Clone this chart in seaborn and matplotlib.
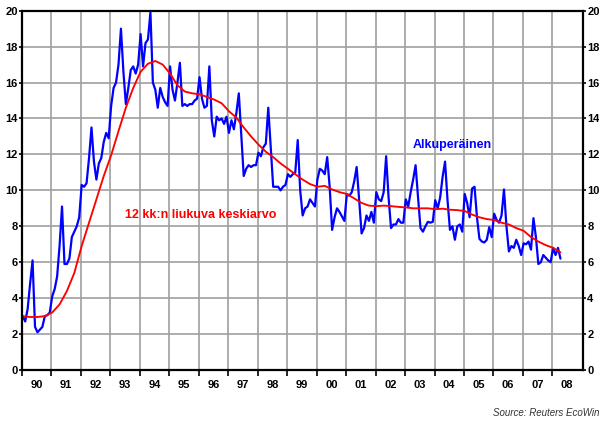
import matplotlib
matplotlib.use("Agg")
import matplotlib.pyplot as plt
import numpy as np
import pandas as pd
import seaborn as sns
from matplotlib.ticker import FixedLocator, FixedFormatter, NullFormatter

# ---- data (monthly, Jan 1990 .. Apr 2008) ----
b1990 = [3.0, 2.7, 3.4, 4.8, 6.1, 2.4, 2.1, 2.25, 2.4, 3.0, 3.05, 3.2]
b1991 = [4.1, 4.5, 5.2, 6.9, 9.1, 5.9, 5.9, 6.2, 7.4, 7.7, 8.0, 8.5]
b1992 = [10.3, 10.2, 10.4, 11.8, 13.5, 11.6, 10.6, 11.5, 11.8, 12.7, 13.2, 12.9]
b1993 = [14.7, 15.7, 16.0, 17.0, 19.0, 16.6, 14.8, 15.7, 16.7, 16.9, 16.5, 17.0]
b1994 = [18.7, 16.9, 18.2, 18.4, 19.9, 16.0, 15.6, 14.6, 15.7, 15.2, 14.9, 14.7]
b1995 = [16.9, 15.6, 15.0, 16.0, 17.1, 14.7, 14.8, 14.7, 14.8, 14.8, 15.0, 15.1]
b1996 = [16.3, 15.1, 14.6, 14.7, 16.9, 13.9, 13.0, 14.1, 13.9, 14.0, 13.7, 14.1]
b1997 = [13.2, 13.9, 13.4, 14.3, 15.4, 13.1, 10.8, 11.2, 11.4, 11.3, 11.4, 11.4]
b1998 = [12.1, 11.9, 12.4, 12.6, 14.6, 12.4, 10.2, 10.2, 10.2, 10.0, 10.2, 10.3]
b1999 = [10.9, 10.75, 10.9, 11.0, 12.8, 10.0, 8.6, 9.0, 9.1, 9.5, 9.3, 9.1]
b2000 = [10.6, 11.2, 11.1, 10.9, 11.85, 10.2, 7.8, 8.5, 9.0, 8.8, 8.55, 8.3]
b2001 = [9.8, 9.7, 9.9, 10.5, 11.3, 9.5, 7.6, 7.9, 8.6, 8.3, 8.8, 8.2]
b2002 = [9.9, 9.5, 9.4, 9.9, 11.9, 9.6, 7.9, 8.1, 8.1, 8.4, 8.2, 8.2]
b2003 = [9.5, 9.1, 9.9, 10.6, 11.4, 9.6, 7.9, 7.7, 8.0, 8.25, 8.2, 8.25]
b2004 = [9.45, 9.0, 9.6, 10.75, 11.6, 9.45, 7.8, 8.0, 7.25, 8.0, 8.1, 7.7]
b2005 = [9.8, 9.3, 8.5, 10.1, 10.2, 8.5, 7.3, 7.15, 7.1, 7.25, 7.95, 7.4]
b2006 = [8.7, 8.35, 8.2, 8.6, 10.05, 8.0, 6.6, 6.9, 6.8, 7.25, 6.9, 6.4]
b2007 = [7.05, 7.0, 7.15, 6.7, 8.45, 7.4, 5.9, 6.0, 6.4, 6.25, 6.1, 6.0]
b2008 = [6.8, 6.4, 6.8, 6.2]

# 12-month moving average, read every third month (Jan, Apr, Jul, Oct ...)
red_quarterly = [3.0, 2.95, 2.95, 3.0, 3.2, 3.65, 4.4, 5.4, 6.9, 8.2, 9.5, 10.8,
                 11.95, 13.3, 14.6, 15.7, 16.6, 17.05, 17.2, 17.0, 16.5, 15.85, 15.5, 15.4,
                 15.35, 15.2, 15.05, 14.85, 14.4, 14.05, 13.5, 13.0, 12.55, 12.15, 11.85, 11.5,
                 11.2, 10.9, 10.6, 10.35, 10.2, 10.25, 10.05, 9.9, 9.8, 9.55, 9.3, 9.15,
                 9.12, 9.15, 9.12, 9.08, 9.05, 9.0, 9.0, 9.0, 8.95, 8.98, 8.92, 8.9,
                 8.85, 8.65, 8.5, 8.4, 8.35, 8.2, 8.1, 7.9, 7.75, 7.4, 7.15, 6.95,
                 6.8, 6.55]

year_labels = ["90", "91", "92", "93", "94", "95", "96", "97", "98", "99",
               "00", "01", "02", "03", "04", "05", "06", "07", "08"]
y_ticks = [0, 2, 4, 6, 8, 10, 12, 14, 16, 18, 20]

label_blue = "Alkuperäinen"
label_red = "12 kk:n liukuva keskiarvo"
source_text = "Source: Reuters EcoWin"

# ---- build frames ----
blue = (b1990 + b1991 + b1992 + b1993 + b1994 + b1995 + b1996 + b1997 + b1998 +
        b1999 + b2000 + b2001 + b2002 + b2003 + b2004 + b2005 + b2006 + b2007 + b2008)
months_blue = np.arange(len(blue))
df_blue = pd.DataFrame({"t": 1990 + (months_blue + 0.3) / 12.0, "v": blue})
months_red = np.arange(len(red_quarterly)) * 3
df_red = pd.DataFrame({"t": 1990 + (months_red + 0.3) / 12.0, "v": red_quarterly})

# ---- style ----
sns.set_style("white")
plt.rcParams["font.family"] = ["Liberation Sans", "DejaVu Sans"]
plt.rcParams["font.weight"] = "bold"

fig = plt.figure(figsize=(5.99, 4.21), dpi=100)
ax = fig.add_axes([22 / 599, 1 - 370 / 421, (583 - 22) / 599, (370 - 10.7) / 421])

sns.lineplot(data=df_blue, x="t", y="v", color="#0000ff", linewidth=1.6, ax=ax)
sns.lineplot(data=df_red, x="t", y="v", color="#ff0000", linewidth=1.35, ax=ax)

ax.set_xlim(1990, 2009.04)
ax.set_ylim(0, 20)
ax.set_xlabel("")
ax.set_ylabel("")

years = list(range(1990, 2009))
ax.xaxis.set_major_locator(FixedLocator(years))
ax.xaxis.set_major_formatter(NullFormatter())
ax.xaxis.set_minor_locator(FixedLocator([y + 0.5 for y in years]))
ax.xaxis.set_minor_formatter(FixedFormatter(year_labels))
ax.set_yticks(y_ticks)

ax.grid(True, which="major", color="#a0a0a0", linewidth=1.2)
ax.set_axisbelow(True)

ax.tick_params(axis="x", which="major", bottom=True, length=4, width=1.2,
               direction="out", color="black")
ax.tick_params(axis="x", which="minor", bottom=True, length=0, pad=7.5,
               labelsize=8, labelcolor="black")
ax.tick_params(axis="y", which="major", left=True, right=True, labelleft=True,
               labelright=True, length=2, width=1.2, pad=1, labelsize=8,
               direction="out", color="black", labelcolor="black")

for side in ["left", "right", "top", "bottom"]:
    ax.spines[side].set_visible(True)
    ax.spines[side].set_color("black")
    ax.spines[side].set_linewidth(1.6)

ax.text(2004.6, 12.55, label_blue, color="#0000ff", fontsize=9, fontweight="bold",
        ha="center", va="center")
ax.text(1996.05, 8.65, label_red, color="#ff0000", fontsize=9, fontweight="bold",
        ha="center", va="center")

fig.text(1.0, 1 - 412.5 / 421, source_text, ha="right", va="center",
         fontsize=7, fontstyle="italic", fontweight="normal", color="#333333")

fig.savefig("out.png", dpi=100)
